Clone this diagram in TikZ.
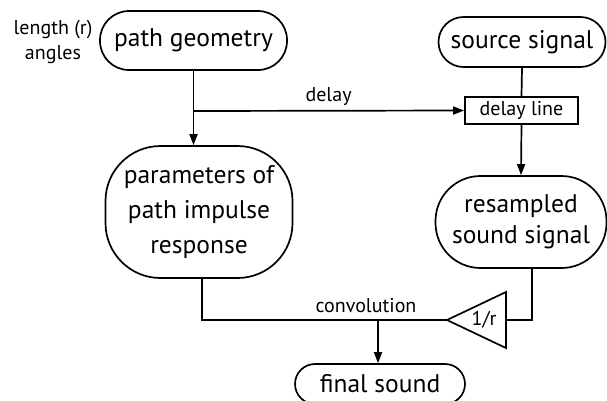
\documentclass[tikz,border=0pt]{standalone}
\usepackage{fontspec}
\setmainfont{PT Sans}
\usetikzlibrary{arrows.meta}
\begin{document}
\begin{tikzpicture}[x=1pt,y=-1pt,
  line width=1.7pt,
  big/.style={font=\fontsize{25.5}{32}\selectfont},
  small/.style={font=\fontsize{20}{22}\selectfont},
  pill/.style={draw,big,align=center,inner sep=0pt},
  arr/.style={-{Triangle[length=11pt,width=8pt]}}]
\useasboundingbox (0,0) rectangle (607,400);
\clip (0,0) rectangle (607,400);
% nodes
\node[pill,minimum width=187pt,minimum height=59pt,rounded corners=29pt] (pg) at (193.5,40.5) {path geometry};
\node[pill,minimum width=167pt,minimum height=50pt,rounded corners=25pt] (src) at (522,42) {source signal};
\node[draw,small,minimum width=113pt,minimum height=27pt,inner sep=0pt] (dl) at (521.5,110.5) {delay line};
\node[pill,minimum width=187pt,minimum height=132pt,rounded corners=55pt,font=\fontsize{25.5}{35}\selectfont] (par) at (199,212) {parameters of\\path impulse\\response};
\node[pill,minimum width=171pt,minimum height=92pt,rounded corners=45pt,font=\fontsize{25.5}{31}\selectfont] (res) at (521,222) {resampled\\sound signal};
\node[pill,minimum width=170pt,minimum height=40pt,rounded corners=20pt] (fin) at (380,384) {final sound};
\node[small,align=center,font=\fontsize{20}{25}\selectfont] (lbl) at (53,42) {length (r)\\angles};
% triangle amplifier
\coordinate (tip) at (447,320);
\coordinate (base) at (506,320);
\draw[line join=miter] (tip) -- (506,292) -- (506,348) -- cycle;
\node[small] (gain) at (484,320) {1/r};
% connectors
\draw[arr] (pg.south) -- (pg.south |- par.north);
\coordinate (br) at (193,111);
\draw[arr] (br) -- (dl.west) node[small,midway,above=1pt] (dlab) {delay};
\draw (src.south) -- (dl.north);
\draw[arr] (dl.south) -- (res.north);
\draw ([xshift=3pt]par.south) |- (tip);
\draw ([xshift=11pt]res.south) |- (base);
\coordinate (j) at (378,320);
\draw[arr] (j) -- (j |- fin.north);
\node[small] (conv) at (366,306) {convolution};
\end{tikzpicture}
\end{document}
